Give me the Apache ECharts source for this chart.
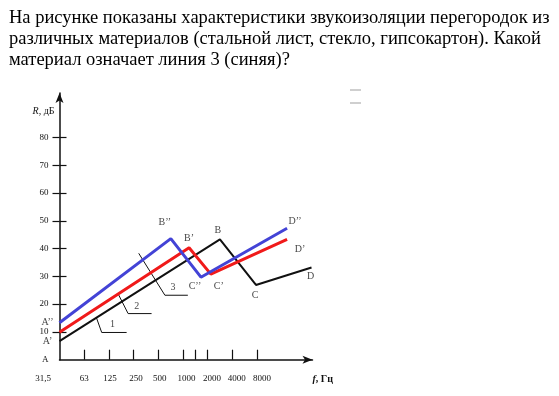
<!DOCTYPE html>
<html><head><meta charset="utf-8">
<script src="https://cdn.jsdelivr.net/npm/echarts@6/dist/echarts.min.js"></script>
<style>html,body{margin:0;padding:0;background:#fff}#c{width:559px;height:396px}</style>
</head><body><div id="c"></div>
<script>
// x: octaves from 31,5 Hz; y: R, dB
const line1U = [0, 6.5, 7.96, 10.21];
const line1V = [6.7, 43.3, 26.9, 33.2];
const line1Names = ['', 'B', 'C', 'D'];
const line2U = [0, 5.25, 6.13, 9.22];
const line2V = [9.9, 40.3, 30.8, 43.3];
const line2Names = ["A’", "B’", "C’", "D’"];
const line3U = [0, 4.51, 5.73, 9.22];
const line3V = [13.3, 43.6, 29.7, 47.3];
const line3Names = ["A’’", "B’’", "C’’", "D’’"];
const xTickValues = [1, 2, 3, 4, 5, 5.5, 6, 7, 8];
const xLabelText = ['31,5', '63', '125', '250', '500', '1000', '2000', '4000', '8000'];
const xLabelPos = [0, 1, 2.05, 3.1, 4.06, 5.15, 6.18, 7.18, 8.2];
const yLabelValues = [0, 10, 20, 30, 40, 50, 60, 70, 80];
const yTickValues = [10, 20, 30, 40, 50, 60, 70, 80];
// leader lines for numbers 1, 2, 3
const lead1U = [1.5, 1.71, 2.72], lead1V = [15.0, 9.8, 9.8];
const lead2U = [2.37, 2.78, 3.73], lead2V = [23.8, 16.6, 16.6];
const lead3U = [3.21, 4.27, 5.2], lead3V = [38.3, 23.2, 23.2];
const numU = [2.15, 3.13, 4.6], numV = [12.7, 19.2, 26.0], numText = ['1', '2', '3'];

// label offsets (style)
const off1 = [[0,0], [-2,-9], [-1,10], [-1,9]];
const off2 = [[-12,9], [0,-9], [8,12], [13,10]];
const off3 = [[-12,0], [-6,-16], [-6,9], [8,-7]];

const serif = "'Liberation Serif', 'DejaVu Serif', serif";
const zip = (u, v) => u.map((x, i) => [x, v[i]]);
function lineSeries(u, v, color, width) {
  return { type: 'line', data: zip(u, v), symbol: 'none', lineStyle: { color: color, width: width }, z: 3, animation: false };
}
function labelSeries(u, v, names, offs) {
  return {
    type: 'scatter', symbolSize: 1, itemStyle: { color: 'rgba(0,0,0,0)' }, z: 5, animation: false,
    data: u.map((x, i) => ({ value: [x, v[i]], label: { show: names[i] !== '', formatter: names[i], offset: offs[i] } })),
    label: { show: true, position: 'inside', color: '#111', fontFamily: serif, fontSize: 10 }
  };
}
function leader(u, v) {
  return { type: 'line', data: zip(u, v), symbol: 'none', lineStyle: { color: '#111', width: 1 }, z: 2, animation: false };
}

const chart = echarts.init(document.getElementById('c'));
chart.setOption({
  animation: false,
  title: {
    text: 'На рисунке показаны характеристики звукоизоляции перегородок из\nразличных материалов (стальной лист, стекло, гипсокартон). Какой\nматериал означает линия 3 (синяя)?',
    left: 4, top: 3,
    textStyle: { fontFamily: serif, fontSize: 18.5, fontWeight: 'normal', color: '#000', lineHeight: 21 }
  },
  graphic: [
    { type: 'rect', shape: { x: 350, y: 89, width: 11, height: 2 }, style: { fill: '#cfcfcf' } },
    { type: 'rect', shape: { x: 350, y: 102, width: 11, height: 2 }, style: { fill: '#cfcfcf' } }
  ],
  grid: { left: 59.5, top: 93, width: 253, bottom: 36.3, containLabel: false },
  xAxis: {
    type: 'value', min: 0, max: 10.25,
    axisLine: { show: true, lineStyle: { color: '#111', width: 1.5 }, symbol: ['none', 'arrow'], symbolSize: [6, 10] },
    axisTick: { show: true, inside: true, length: 10, customValues: xTickValues, lineStyle: { color: '#111', width: 1.2 } },
    axisLabel: {
      customValues: xLabelPos, margin: 14, color: '#111', fontFamily: serif, fontSize: 9,
      formatter: function (val) {
        const i = xLabelPos.indexOf(val);
        if (i === 0) return '{s|' + xLabelText[0] + '}';
        return i >= 0 ? xLabelText[i] : '';
      },
      rich: { s: { padding: [0, 33, 0, 0], fontFamily: serif, fontSize: 9, color: '#111' } }
    },
    splitLine: { show: false },
    name: '{i|f}, Гц', nameLocation: 'end', nameGap: 0,
    nameTextStyle: { verticalAlign: 'top', align: 'left', padding: [15, 0, 0, 0], fontFamily: serif, fontSize: 10, fontWeight: 'bold', color: '#111',
      rich: { i: { fontStyle: 'italic', fontFamily: serif, fontSize: 10, fontWeight: 'bold', color: '#111' } } }
  },
  yAxis: [{
    type: 'value', min: 0, max: 96,
    axisLine: { show: true, lineStyle: { color: '#111', width: 1.5 }, symbol: ['none', 'arrow'], symbolSize: [6, 10] },
    axisTick: { show: true, inside: false, length: 7, customValues: yTickValues, lineStyle: { color: '#111', width: 1.2 } },
    axisLabel: {
      customValues: yLabelValues, margin: 11, color: '#111', fontFamily: serif, fontSize: 9,
      formatter: function (val) { return val === 0 ? 'A' : String(val); }
    },
    splitLine: { show: false },
    name: '{i|R}, дБ', nameLocation: 'end', nameGap: -18,
    nameTextStyle: { align: 'right', verticalAlign: 'middle', padding: [0, 5, 0, 0], fontFamily: serif, fontSize: 10, color: '#111',
      rich: { i: { fontStyle: 'italic', fontFamily: serif, fontSize: 10, color: '#111' } } }
  }, {
    type: 'value', min: 0, max: 96, position: 'left',
    axisLine: { show: false },
    axisTick: { show: true, inside: true, length: 7, customValues: yTickValues, lineStyle: { color: '#111', width: 1.2 } },
    axisLabel: { show: false },
    splitLine: { show: false }
  }],
  series: [
    leader(lead1U, lead1V), leader(lead2U, lead2V), leader(lead3U, lead3V),
    lineSeries(line1U, line1V, '#111111', 2),
    lineSeries(line2U, line2V, '#f01a1a', 3),
    lineSeries(line3U, line3V, '#4343d6', 3),
    labelSeries(line1U, line1V, line1Names, off1),
    labelSeries(line2U, line2V, line2Names, off2),
    labelSeries(line3U, line3V, line3Names, off3),
    labelSeries(numU, numV, numText, [[0,0],[0,0],[0,0]])
  ]
});
</script></body></html>
